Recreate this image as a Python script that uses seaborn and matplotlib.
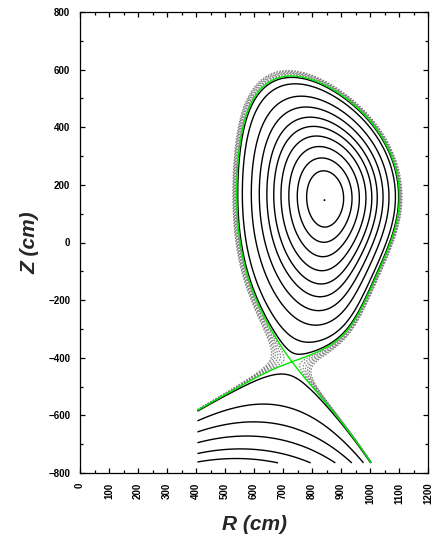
import numpy as np
import matplotlib
matplotlib.use("Agg")
import matplotlib.pyplot as plt
from matplotlib.ticker import MultipleLocator
import seaborn as sns

# ---- shape of the equilibrium (cm) ----
R_inner, R_outer = 540.0, 1100.0      # inner / outer midplane edge of separatrix
Z_mid = 165.0                         # height of midplane points
R_top, Z_top = 728.0, 578.0           # top of separatrix
R_xpt, Z_xpt = 731.0, -414.0          # X-point
upper_branch_angles = [-57.4, 22.0]   # separatrix branches above X (deg)
lower_branch_angles = [-49.4, 19.0]   # divertor legs below X (deg)
R_axis, Z_axis = 843.0, 147.0         # magnetic axis (dot)
A_profile = 0.45                      # pressure / current profile parameter
warp_radius = 300.0                   # extent of the X-point region (cm)

# computational box (contours are clipped to it)
R_box = [405.0, 1150.0]
Z_box = [-765.0, 700.0]

# normalised flux of the drawn contours
core_levels = [0.054, 0.118, 0.195, 0.282, 0.374, 0.472, 0.59, 0.726, 0.891, 0.98]
private_levels = [-10.4, -7.35, -4.27, -1.94, -0.18, 0.931]
sep_levels = [1.0]
sol_levels = [1.012, 1.025, 1.038, 1.051, 1.064, 1.077]

x_ticks = list(range(0, 1201, 100))
y_ticks = list(range(-800, 801, 200))


def basis(x, y):
    lx = np.log(x)
    return np.array([
        1.0 + 0 * x,
        x**2,
        y**2 - x**2 * lx,
        x**4 - 4 * x**2 * y**2,
        2 * y**4 - 9 * y**2 * x**2 + 3 * x**4 * lx - 12 * x**2 * y**2 * lx,
        x**6 - 12 * x**4 * y**2 + 8 * x**2 * y**4,
        8 * y**6 - 140 * y**4 * x**2 + 75 * y**2 * x**4 - 15 * x**6 * lx
        + 180 * x**4 * y**2 * lx - 120 * x**2 * y**4 * lx,
        y + 0 * x,
        y * x**2,
        y**3 - 3 * y * x**2 * lx,
        3 * y * x**4 - 4 * y**3 * x**2,
        8 * y**5 - 45 * y * x**4 - 80 * y**3 * x**2 * lx + 60 * y * x**4 * lx,
    ])


def solve(A):
    R0 = 0.5 * (R_inner + R_outer)
    a = 0.5 * (R_outer - R_inner)
    eps = a / R0
    kap = (Z_top - Z_mid) / a
    dl = (R0 - R_top) / a
    xt, yt = 1 - dl * eps, kap * eps
    xs, ys = R_xpt / R0, (Z_xpt - Z_mid) / R0
    al = np.arcsin(dl)
    N1 = -(1 + al)**2 / (eps * kap**2)
    N2 = (1 - al)**2 / (eps * kap**2)
    N3 = -kap / (eps * np.cos(al)**2)

    def part(x, y):
        return x**4 / 8 + A * (x**2 * np.log(x) / 2 - x**4 / 8)

    h, h2 = 1e-5, 1e-3
    dx = lambda g, x, y: (g(x + h, y) - g(x - h, y)) / (2 * h)
    dy = lambda g, x, y: (g(x, y + h) - g(x, y - h)) / (2 * h)
    dxx = lambda g, x, y: (g(x + h2, y) - 2 * g(x, y) + g(x - h2, y)) / h2**2
    dyy = lambda g, x, y: (g(x, y + h2) - 2 * g(x, y) + g(x, y - h2)) / h2**2
    ops = [
        lambda g: g(1 + eps, 0.0),
        lambda g: g(1 - eps, 0.0),
        lambda g: g(xt, yt),
        lambda g: g(xs, ys),
        lambda g: dy(g, 1 + eps, 0.0),
        lambda g: dy(g, 1 - eps, 0.0),
        lambda g: dx(g, xt, yt),
        lambda g: dx(g, xs, ys),
        lambda g: dy(g, xs, ys),
        lambda g: dyy(g, 1 + eps, 0.0) + N1 * dx(g, 1 + eps, 0.0),
        lambda g: dyy(g, 1 - eps, 0.0) + N2 * dx(g, 1 - eps, 0.0),
        lambda g: dxx(g, xt, yt) + N3 * dy(g, xt, yt),
    ]
    M = np.array([op(basis) for op in ops])
    rhs = -np.array([op(part) for op in ops])
    c = np.linalg.solve(M, rhs)

    def psi(R, Z):
        x, y = R / R0, (Z - Z_mid) / R0
        return part(x, y) + np.tensordot(c, basis(x, y), axes=1)
    return psi


psi = solve(A_profile)
rb = np.linspace(650, 1000, 351)
zb = np.linspace(-100, 400, 501)
RB, ZB = np.meshgrid(rb, zb)
PB = psi(RB, ZB)
k = np.unravel_index(np.argmax(np.abs(PB)), PB.shape)
psi_ax = PB[k]


def psi_n(R, Z):
    return 1 - psi(R, Z) / psi_ax


# Hessian of the model at the X-point -> directions of its separatrix branches
hh = 1.0
pRR = (psi_n(R_xpt + hh, Z_xpt) - 2 * psi_n(R_xpt, Z_xpt) + psi_n(R_xpt - hh, Z_xpt)) / hh**2
pZZ = (psi_n(R_xpt, Z_xpt + hh) - 2 * psi_n(R_xpt, Z_xpt) + psi_n(R_xpt, Z_xpt - hh)) / hh**2
pRZ = (psi_n(R_xpt + hh, Z_xpt + hh) - psi_n(R_xpt + hh, Z_xpt - hh)
       - psi_n(R_xpt - hh, Z_xpt + hh) + psi_n(R_xpt - hh, Z_xpt - hh)) / (4 * hh**2)
disc = np.sqrt(pRZ**2 - pRR * pZZ)
t1, t2 = (-pRZ - disc) / pZZ, (-pRZ + disc) / pZZ
ta, tb = min(t1, t2), max(t1, t2)
a_mod = np.array([1.0, ta]) / np.hypot(1, ta)
b_mod = np.array([1.0, tb]) / np.hypot(1, tb)
Mmod = np.column_stack([a_mod, b_mod])


def branch_map(angles):
    g = np.radians(angles)
    Mref = np.column_stack([[np.cos(g[0]), np.sin(g[0])], [np.cos(g[1]), np.sin(g[1])]])
    return Mmod @ np.linalg.inv(Mref)


L_up = branch_map(upper_branch_angles) - np.eye(2)
L_low = branch_map(lower_branch_angles) - np.eye(2)


def warp(R, Z):
    dR, dZ = R - R_xpt, Z - Z_xpt
    gauss = np.exp(-(dR**2 + dZ**2) / warp_radius**2)
    s = 0.5 * (1 + np.tanh(dZ / 120.0))
    D = (1 - s)[..., None, None] * L_low + (s * gauss)[..., None, None] * L_up
    Rw = R + D[..., 0, 0] * dR + D[..., 0, 1] * dZ
    Zw = Z + D[..., 1, 0] * dR + D[..., 1, 1] * dZ
    return Rw, Zw


def shown(R, Z):
    Rw, Zw = warp(np.asarray(R, float), np.asarray(Z, float))
    return psi_n(Rw, Zw)


r = np.linspace(R_box[0], R_box[1], 560)
z = np.linspace(Z_box[0], Z_box[1], 1000)
RR, ZZ = np.meshgrid(r, z)
psin = shown(RR, ZZ)

core = np.ma.masked_where(ZZ < Z_xpt, psin)
priv = np.ma.masked_where(ZZ > Z_xpt, psin)

sns.set_style("ticks")
plt.rcParams["font.family"] = ["Liberation Sans", "DejaVu Sans"]
plt.rcParams["contour.negative_linestyle"] = "solid"

fig = plt.figure(figsize=(4.32, 5.38), dpi=100)
ax = fig.add_axes([80 / 432, 65 / 538, 348 / 432, 461 / 538])

ax.contour(RR, ZZ, psin, levels=sol_levels, colors="#808080",
           linewidths=0.9, linestyles=[(0, (1.2, 1.2))])
ax.contour(RR, ZZ, core, levels=core_levels, colors="black", linewidths=1.0,
           linestyles="solid")
ax.contour(RR, ZZ, priv, levels=private_levels, colors="black", linewidths=1.0,
           linestyles="solid")
ax.contour(RR, ZZ, psin, levels=sep_levels, colors="#00e600", linewidths=1.0)
sns.scatterplot(x=[R_axis], y=[Z_axis], ax=ax, color="black", s=2,
                edgecolor="none", legend=False)

ax.set_xlim(0, 1200)
ax.set_ylim(-800, 800)
ax.set_xticks(x_ticks)
ax.set_yticks(y_ticks)
ax.xaxis.set_minor_locator(MultipleLocator(50))
ax.yaxis.set_minor_locator(MultipleLocator(100))
ax.tick_params(which="both", direction="in", top=True, right=True,
               labelsize=7, width=0.9, colors="black")
ax.tick_params(which="major", length=3.5)
ax.tick_params(which="minor", length=2)
ax.tick_params(axis="x", labelrotation=90, pad=7)
ax.tick_params(axis="y", pad=7)
for lab in ax.get_xticklabels() + ax.get_yticklabels():
    lab.set_fontweight("bold")
for s in ax.spines.values():
    s.set_linewidth(0.9)
    s.set_color("black")
ax.set_xlabel("R (cm)", fontsize=15, fontweight="bold", fontstyle="italic", labelpad=8)
ax.set_ylabel("Z (cm)", fontsize=15, fontweight="bold", fontstyle="italic", labelpad=6)

fig.savefig("out.png", dpi=100)
